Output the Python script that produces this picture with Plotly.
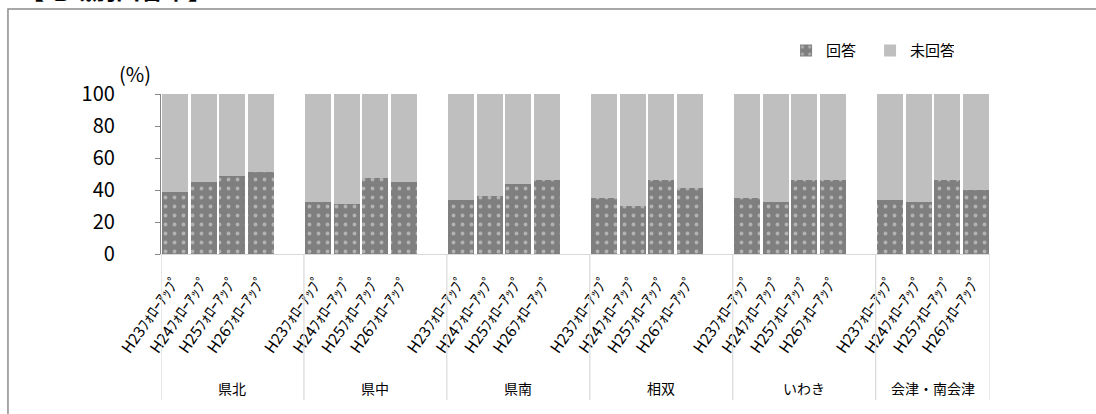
import plotly.graph_objects as go

# Regions and survey rounds
regions = ["県北", "県中", "県南", "相双", "いわき", "会津・南会津"]
rounds = ["H23ﾌｫﾛｰｱｯﾌﾟ", "H24ﾌｫﾛｰｱｯﾌﾟ", "H25ﾌｫﾛｰｱｯﾌﾟ", "H26ﾌｫﾛｰｱｯﾌﾟ"]

# Response rates (%) per region, one value per round
answered = [
    [38.8, 45.2, 48.9, 51.4],
    [32.6, 31.4, 47.7, 45.2],
    [33.8, 36.3, 43.8, 46.3],
    [35.1, 30.1, 46.3, 41.3],
    [35.1, 32.6, 46.3, 46.3],
    [33.8, 32.6, 46.3, 40.1],
]
not_answered = [
    [61.2, 54.8, 51.1, 48.6],
    [67.4, 68.6, 52.3, 54.8],
    [66.2, 63.7, 56.2, 53.7],
    [64.9, 69.9, 53.7, 58.7],
    [64.9, 67.4, 53.7, 53.7],
    [66.2, 67.4, 53.7, 59.9],
]

y_ticks = [0, 20, 40, 60, 80, 100]

FONT = "Noto Sans CJK JP"
SLOT = len(rounds) + 1  # one empty slot between regions

xs, labels, ans, nans = [], [], [], []
for g, region in enumerate(regions):
    for i, r in enumerate(rounds):
        xs.append(g * SLOT + i)
        labels.append(r)
        ans.append(answered[g][i])
        nans.append(not_answered[g][i])

last_x = (len(regions) - 1) * SLOT + len(rounds) - 1

fig = go.Figure()
fig.add_trace(go.Bar(
    x=xs, y=ans, name="回答",
    marker=dict(color="#7f7f7f", line=dict(width=0),
                pattern=dict(shape=".", fgcolor="#e6e6e6", size=9, solidity=0.14)),
))
fig.add_trace(go.Bar(
    x=xs, y=nans, name="未回答",
    marker=dict(color="#bfbfbf", line=dict(width=0)),
))

shapes = []
# group dividers below the category axis
bounds = [g * SLOT - 0.5 for g in range(len(regions))] + [last_x + 0.5]
for b in bounds:
    shapes.append(dict(type="line", xref="x", yref="paper", x0=b, x1=b, y0=0, y1=-0.9125,
                       line=dict(color="#d9d9d9", width=1.2)))
# chart frame
shapes.append(dict(type="rect", xref="paper", yref="paper", x0=-0.1846, x1=1.3,
                   y0=-1.3, y1=1.531, line=dict(color="#8c8c8c", width=1.5),
                   fillcolor="rgba(0,0,0,0)", layer="below"))

annotations = []
for g, region in enumerate(regions):
    lo = g * SLOT - 0.5
    hi = min(g * SLOT + SLOT - 0.5, last_x + 0.5)
    annotations.append(dict(x=(lo + hi) / 2, y=-0.8375, xref="x", yref="paper",
                            xanchor="center", yanchor="middle",
                            text=region, showarrow=False,
                            font=dict(family=FONT, size=14, color="#000000")))
annotations.append(dict(x=-0.031, y=1.13, xref="paper", yref="paper", text="(%)",
                        xanchor="center", yanchor="middle",
                        showarrow=False, font=dict(family=FONT, size=20, color="#000000")))
annotations.append(dict(x=-0.172, y=1.66, xref="paper", yref="paper", xanchor="left",
                        yanchor="middle", text="<b>【地域別回答率】</b>", showarrow=False,
                        font=dict(family=FONT, size=24, color="#000000")))

fig.update_layout(
    width=1096, height=414,
    margin=dict(l=161, r=106, t=94, b=160, autoexpand=False),
    paper_bgcolor="white", plot_bgcolor="white",
    barmode="stack", bargap=0.09,
    font=dict(family=FONT, color="#000000"),
    showlegend=True,
    legend=dict(orientation="h", x=0.754, y=1.27, xanchor="left", yanchor="middle",
                traceorder="normal",
                font=dict(family=FONT, size=15), bgcolor="rgba(0,0,0,0)",
                entrywidth=39, itemwidth=30),
    shapes=shapes, annotations=annotations,
)
fig.update_xaxes(
    range=[-0.5, last_x + 0.5], tickmode="array", tickvals=xs, ticktext=labels,
    tickangle=-55, tickfont=dict(family=FONT, size=15.5, color="#000000"),
    ticklabelstandoff=10,
    showline=True, linecolor="#d9d9d9", linewidth=1.2, ticks="", showgrid=False,
    zeroline=False, automargin=False,
)
fig.update_yaxes(
    range=[0, 100], tickmode="array", tickvals=y_ticks,
    tickfont=dict(family=FONT, size=20, color="#000000"),
    showline=True, linecolor="#868686", linewidth=1.2, ticks="outside", ticklen=5,
    tickcolor="#868686", showgrid=False, zeroline=False, ticklabelstandoff=36,
    automargin=False,
)

fig.write_html("out.html")
